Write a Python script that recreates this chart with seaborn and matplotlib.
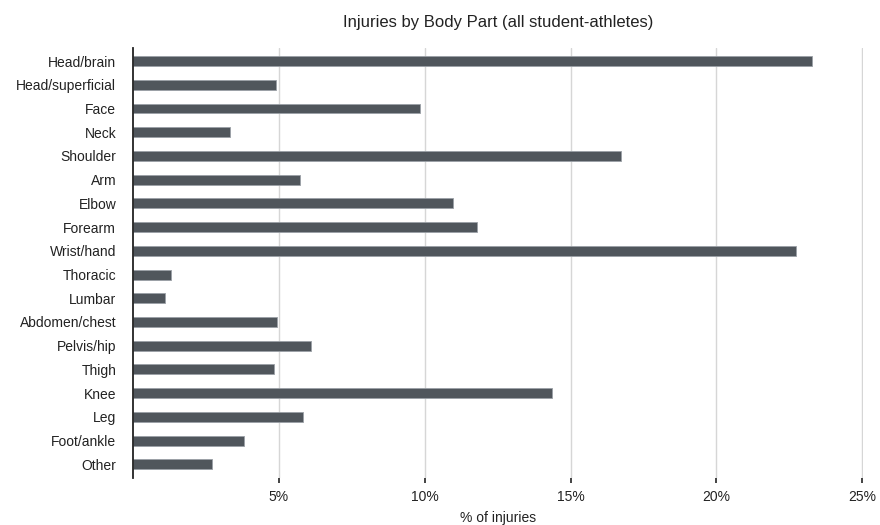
import numpy as np
import pandas as pd
import seaborn as sns
import matplotlib.pyplot as plt
from matplotlib.ticker import FuncFormatter

# Values (% of injuries)
body_parts = ["Head/brain", "Head/superficial", "Face", "Neck", "Shoulder", "Arm",
              "Elbow", "Forearm", "Wrist/hand", "Thoracic", "Lumbar", "Abdomen/chest",
              "Pelvis/hip", "Thigh", "Knee", "Leg", "Foot/ankle", "Other"]
pct_injuries = [23.26, 4.89, 9.84, 3.32, 16.72, 5.72,
                10.98, 11.8, 22.72, 1.30, 1.10, 4.94,
                6.09, 4.83, 14.35, 5.83, 3.80, 2.72]
x_ticks = [5, 10, 15, 20, 25]

df = pd.DataFrame({"part": body_parts, "pct": pct_injuries})

sns.set_theme(style="white", rc={"xtick.bottom": True, "xtick.major.size": 3.5})
plt.rcParams['font.family'] = ['Liberation Sans', 'DejaVu Sans']

fig = plt.figure(figsize=(8.8, 5.25), dpi=100)
ax = fig.add_axes([0.151, 0.0895, 0.830, 0.819])

sns.barplot(data=df, x="pct", y="part", color="#50565c", width=0.42,
            edgecolor="#9aa0a6", linewidth=0.6, saturation=1, ax=ax)

ax.set_xlim(0, 25.03)
ax.set_ylim(17.58, -0.55)
ax.set_xticks(x_ticks)
ax.xaxis.set_major_formatter(FuncFormatter(lambda v, p: f"{v:.0f}%"))
ax.grid(axis="x", color="#d6d6d6", linewidth=1)
ax.set_axisbelow(True)

for s in ["top", "right", "bottom"]:
    ax.spines[s].set_visible(False)
ax.spines["left"].set_color("#222222")
ax.spines["left"].set_linewidth(1.3)

ax.tick_params(axis="x", bottom=True, length=3.5, width=1.2, color="#222222",
               pad=5, labelsize=10, labelcolor="#222222")
ax.tick_params(axis="y", left=False, pad=6, labelsize=10, labelcolor="#222222")

ax.set_ylabel("")
ax.set_xlabel("% of injuries", fontsize=10, color="#222222", labelpad=5)
ax.set_title("Injuries by Body Part (all student-athletes)", fontsize=12,
             color="#222222", pad=15)

fig.savefig("out.png", dpi=100)
